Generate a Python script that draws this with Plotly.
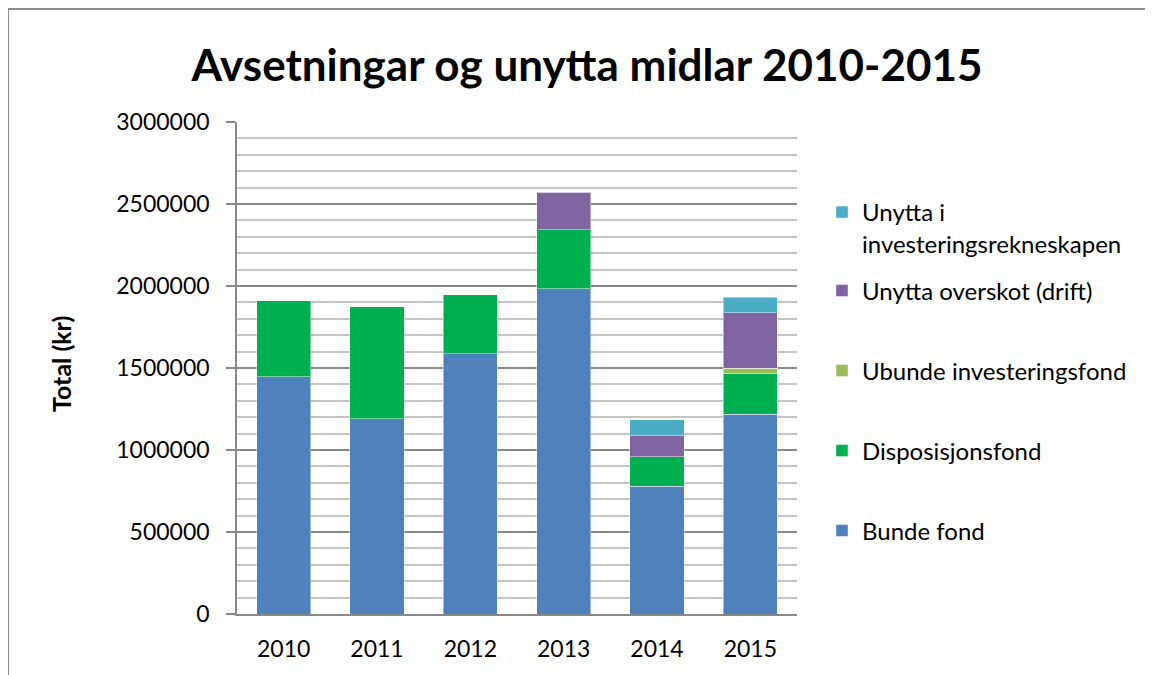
import plotly.graph_objects as go

years = ["2010", "2011", "2012", "2013", "2014", "2015"]
bunde_fond = [1448000, 1192000, 1586000, 1984000, 778000, 1219000]
disposisjonsfond = [463000, 683000, 362000, 360000, 181000, 249000]
ubunde_invfond = [0, 0, 0, 0, 0, 31000]
unytta_overskot = [0, 0, 0, 227000, 128000, 339000]
unytta_inv = [0, 0, 0, 0, 99000, 93000]

series_names = ["Bunde fond", "Disposisjonsfond", "Ubunde investeringsfond",
                "Unytta overskot (drift)", "Unytta i<br>investeringsrekneskapen"]
series_values = [bunde_fond, disposisjonsfond, ubunde_invfond, unytta_overskot, unytta_inv]
series_colors = ["#4F81BD", "#00B050", "#9BBB59", "#8064A2", "#4BACC6"]

FONT = "Lato"
OFF = 8  # page body margin
W, H = 1153 - OFF, 675 - OFF
# plot area in page pixel coordinates
L, R, T, B = 237, 797, 122, 614
pw, ph = R - L, B - T


def px_x(x):
    return (x - L) / pw


def px_y(y):
    return (B - y) / ph


legend_ids = ["legend", "legend2", "legend3", "legend4", "legend5"]
legend_centers = [531, 451, 371, 291, 210]

fig = go.Figure()
for name, vals, col, lid in zip(series_names, series_values, series_colors, legend_ids):
    fig.add_trace(go.Bar(
        x=years, y=vals, name=name, legend=lid,
        marker=dict(color=col, line=dict(color="rgba(255,255,255,0.45)", width=1)),
    ))

layout_legends = {}
for lid, cy in zip(legend_ids, legend_centers):
    layout_legends[lid] = dict(
        x=px_x(822), xanchor="left",
        y=px_y(cy), yanchor="middle" if lid != "legend5" else "top",
        font=dict(family=FONT, size=24, color="#000000"),
        itemwidth=30, bgcolor="rgba(0,0,0,0)",
        valign="top",
    )
# two-line entry: anchor its top near the first line
layout_legends["legend5"]["y"] = px_y(190)

fig.update_layout(
    width=W, height=H,
    barmode="stack", bargap=0.42,
    paper_bgcolor="white", plot_bgcolor="white",
    margin=dict(l=L - OFF, r=(W + OFF) - R, t=T - OFF, b=(H + OFF) - B, autoexpand=False),
    font=dict(family=FONT, size=23, color="#000000"),
    title=dict(text="<b>Avsetningar og unytta midlar 2010-2015</b>",
               x=(587 - OFF) / W, xanchor="center", y=1 - (66 - OFF) / H, yanchor="middle",
               font=dict(family=FONT, size=44, color="#000000")),
    showlegend=True,
    **layout_legends,
)

fig.update_yaxes(
    range=[0, 3000000], dtick=500000, tickformat="d",
    showgrid=True, gridcolor="#888888", gridwidth=1.5,
    showline=True, linecolor="#888888", linewidth=1.5,
    ticks="outside", ticklen=9, tickcolor="#888888", tickwidth=1.5,
    ticklabelstandoff=12,
    tickfont=dict(family=FONT, size=23),
    minor=dict(dtick=100000, showgrid=True, gridcolor="#C4C4C4", gridwidth=1.5),
    zeroline=False,
)
fig.update_xaxes(
    showline=True, linecolor="#888888", linewidth=1.5,
    ticks="", ticklabelstandoff=14, showgrid=False,
    tickfont=dict(family=FONT, size=23),
)

fig.add_annotation(text="<b>Total (kr)</b>", textangle=-90, xref="paper", yref="paper",
                   x=px_x(61), y=px_y(364), xanchor="center", yanchor="middle",
                   showarrow=False, font=dict(family=FONT, size=25, color="#000000"))

# outer chart border (left and top edges visible)
fig.add_shape(type="path", xref="paper", yref="paper",
              path=f"M {px_x(8)} {px_y(690)} L {px_x(8)} {px_y(9)} L {px_x(1170)} {px_y(9)}",
              line=dict(color="#8C8C8C", width=2))

fig.write_html("out.html")
